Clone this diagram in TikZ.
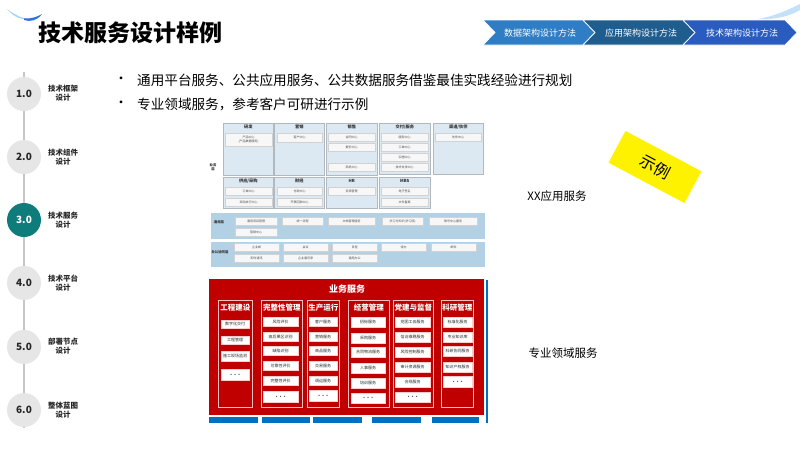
\documentclass[tikz,border=0pt]{standalone}
\usepackage{fontspec}
\setmainfont{Noto Sans CJK SC}
\definecolor{pbg}{HTML}{DCE9F3}
\definecolor{pbd}{HTML}{B0B8C0}
\definecolor{bandc}{HTML}{B3D1E4}
\definecolor{redc}{HTML}{C00000}
\definecolor{bluec}{HTML}{0070C0}
\definecolor{chA}{HTML}{2F7DC5}
\definecolor{chB}{HTML}{1F5D8F}
\definecolor{chC}{HTML}{2A5CBF}
\definecolor{teal3}{HTML}{0E7C7B}
\definecolor{circg}{HTML}{E6E6E6}
\definecolor{swA}{HTML}{A9D4F5}
\definecolor{swB}{HTML}{2F6FE0}
\tikzset{
  panel/.style={draw=pbd, fill=pbg, line width=0.6pt, inner sep=0, anchor=north west},
  ptitle/.style={font=\bfseries\fontsize{4.2}{5}\selectfont, text=black!80, inner sep=0},
  ibox/.style={draw=gray!35, fill=white!94!gray, line width=0.3pt, inner sep=0, anchor=north west, align=center, font=\fontsize{3}{3.6}\selectfont, text=black!70},
  band/.style={fill=bandc, draw=white, line width=0.5pt, inner sep=0, anchor=north west},
  blbl/.style={font=\bfseries\fontsize{3.4}{4}\selectfont, text=black!80, align=center, inner sep=0},
  redbox/.style={fill=redc, inner sep=0, anchor=north west},
  rcol/.style={draw=red!25, line width=0.8pt, inner sep=0, anchor=north west},
  rtitle/.style={font=\bfseries\fontsize{7.5}{8}\selectfont, text=white, inner sep=0},
  rbox/.style={fill=white, draw=red!20, line width=0.3pt, inner sep=0, anchor=north west, font=\fontsize{4}{4.5}\selectfont, text=black!85},
  dots/.style={font=\bfseries\fontsize{6}{6}\selectfont, text=black!70},
  bbar/.style={fill=bluec, inner sep=0, anchor=north west},
  chtxt/.style={font=\fontsize{9}{9}\selectfont, text=white},
  circ/.style={circle, fill=circg, minimum size=34pt, inner sep=0, font=\bfseries\fontsize{10}{10}\selectfont, text=black!85},
  clbl/.style={align=center, font=\bfseries\fontsize{7.5}{8.5}\selectfont, text=black!85, inner sep=0},
}
\newcommand\pnl[6]{\node[panel, minimum width=#4pt, minimum height=#5pt] (#1) at (#2,#3) {};
  \node[ptitle, anchor=north] (#1t) at ([yshift=-2pt]#1.north) {#6};}
\newcommand\ibx[6]{\node[ibox, minimum width=#4pt, minimum height=#5pt] (#1) at (#2,#3) {#6};}
\newcommand\rbx[6]{\node[rbox, minimum width=#4pt, minimum height=#5pt] (#1) at (#2,#3) {#6};}
\newcommand\dbx[5]{\node[rbox, dots, minimum width=#4pt, minimum height=#5pt] (#1) at (#2,#3) {. . .};}
\newcommand\rcl[4]{\node[rcol, minimum width=#3pt, minimum height=107pt] (#1) at (#2,300) {};
  \node[rtitle] (#1t) at ([yshift=-7.5pt]#1.north) {#4};}
\begin{document}
\begin{tikzpicture}[x=1pt,y=-1pt]
\useasboundingbox (0,0) rectangle (800,450);
\fill[white] (0,0) rectangle (800,450);
% swooshes
\fill[swA] (7,9) .. controls (15,15) and (22,18) .. (28,19) .. controls (20,20) and (13,16) .. cycle;
\fill[swB] (24,18.5) .. controls (31,19) and (37,17) .. (42,14) .. controls (37,21) and (30,22) .. (24,20) -- cycle;
\fill[swA!70] (758,19) .. controls (775,16) and (788,10) .. (800,4) -- (800,10) .. controls (790,16) and (775,20) .. cycle;
% title
\node[anchor=west, font=\bfseries\fontsize{23}{23}\selectfont] (title) at (35,33) {技术服务设计样例};
% chevrons
\filldraw[fill=chA, draw=white, line width=0.7pt] (483,20) -- (583,20) -- (595,32.5) -- (583,45) -- (483,45) -- (495,32.5) -- cycle;
\filldraw[fill=chB, draw=white, line width=0.7pt] (583,20) -- (683,20) -- (695,32.5) -- (683,45) -- (583,45) -- (595,32.5) -- cycle;
\filldraw[fill=chC, draw=white, line width=0.7pt] (683,20) -- (785,20) -- (797,32.5) -- (785,45) -- (683,45) -- (695,32.5) -- cycle;
\node[chtxt] (ch1) at (540,33) {数据架构设计方法};
\node[chtxt] (ch2) at (641,33) {应用架构设计方法};
\node[chtxt] (ch3) at (742,33) {技术架构设计方法};
% timeline
\coordinate (ltop) at (24,72);
\coordinate (lbot) at (24,428);
\draw[gray!45, line width=1.5pt] (ltop) -- (lbot);
\node[circ] (c1) at (24,94) {1.0};
\node[circ] (c2) at (24,157) {2.0};
\node[circ, fill=teal3, text=white] (c3) at (24,220) {3.0};
\node[circ] (c4) at (24,283) {4.0};
\node[circ] (c5) at (24,347) {5.0};
\node[circ] (c6) at (24,410) {6.0};
\node[clbl] (l1) at (63,93) {技术框架\\设计};
\node[clbl] (l2) at (63,157) {技术组件\\设计};
\node[clbl] (l3) at (63,220) {技术服务\\设计};
\node[clbl] (l4) at (63,283) {技术平台\\设计};
\node[clbl] (l5) at (63,346) {部署节点\\设计};
\node[clbl] (l6) at (63,410) {整体蓝图\\设计};
% bullets
\node[font=\fontsize{13.5}{14}\selectfont] (bd1) at (121,80) {•};
\node[font=\fontsize{13.5}{14}\selectfont] (bd2) at (121,104) {•};
\node[anchor=west, font=\fontsize{13.6}{14}\selectfont, inner sep=0] (bt1) at (137,80) {通用平台服务、公共应用服务、公共数据服务借鉴最佳实践经验进行规划};
\node[anchor=west, font=\fontsize{13.6}{14}\selectfont, inner sep=0] (bt2) at (137,104) {专业领域服务，参考客户可研进行示例};
% upper diagram
\node[blbl] (ywl) at (213,167) {业务\\层};
\pnl{p1}{223}{123}{50}{52}{研发}
\pnl{p2}{274}{123}{50}{52}{营销}
\pnl{p3}{326}{123}{51}{52}{销售}
\pnl{p4}{379}{123}{51}{51}{交付/服务}
\pnl{p5}{433}{123}{50}{51}{渠道/伙伴}
\pnl{p6}{223}{177}{50}{31}{供应/采购}
\pnl{p7}{274}{177}{50}{31}{财经}
\pnl{p8}{326}{177}{51}{31}{HR}
\pnl{p9}{379}{177}{51}{31}{MBS}
\ibx{yf1}{225}{133}{47}{13}{产品中心\\(产品数据服务)}
\ibx{yx1}{277}{133}{45}{9}{客户中心}
\ibx{xs1}{328}{133}{47}{8}{合同中心}
\ibx{xs2}{328}{143}{47}{8}{报价中心}
\ibx{xs3}{328}{163}{47}{8}{商机中心}
\ibx{jf1}{381}{133}{47}{8}{服务中心}
\ibx{jf2}{381}{143}{47}{8}{工单中心}
\ibx{jf3}{381}{153}{47}{8}{实施中心}
\ibx{jf4}{381}{163}{47}{8}{技术支持中心}
\ibx{qd1}{435}{133}{46}{8}{伙伴中心}
\ibx{gy1}{225}{187}{47}{8}{订单中心}
\ibx{gy2}{225}{198}{47}{8}{采购执行中心}
\ibx{cj1}{277}{187}{45}{8}{付款中心}
\ibx{cj2}{277}{198}{45}{8}{开票回款中心}
\ibx{hr1}{328}{187}{47}{8}{资源管理}
\ibx{mb1}{381}{187}{47}{8}{电子签名}
\ibx{mb2}{381}{198}{47}{8}{文件备案}
\node[band, minimum width=275pt, minimum height=27pt] (ty) at (210,211.5) {};
\node[blbl] (tyl) at (219,222) {通用层};
\ibx{t1}{235}{217}{42}{8}{通用项目管理}
\ibx{t2}{282}{217}{41}{8}{统一流程}
\ibx{t3}{328}{217}{47}{8}{文档管理服务}
\ibx{t4}{382}{217}{41}{8}{学习与知识(学习院)}
\ibx{t5}{429}{217}{48}{8}{账号中心服务}
\ibx{t6}{235}{228}{42}{8}{营销中心}
\node[band, minimum width=275pt, minimum height=26pt] (bg) at (210,240.5) {};
\node[blbl] (bgl) at (220,252) {办公协同层};
\ibx{o1}{234}{243}{45}{8}{企业邮}
\ibx{o2}{283}{243}{45}{8}{会议}
\ibx{o3}{332}{243}{45}{8}{日程}
\ibx{o4}{381}{243}{45}{8}{待办}
\ibx{o5}{431}{243}{45}{8}{邮件}
\ibx{o6}{234}{254}{45}{8}{即时通讯}
\ibx{o7}{283}{254}{45}{8}{企业通讯录}
\ibx{o8}{332}{254}{45}{8}{通用办公}
% red diagram
\node[redbox, minimum width=275pt, minimum height=136pt] (rb) at (209,279) {};
\node[font=\bfseries\fontsize{9}{9}\selectfont, text=white] (rbt) at (347,289) {业务服务};
\node[bbar, minimum width=2.2pt, minimum height=143pt] (bv) at (485.5,280) {};
\node[bbar, minimum width=49pt, minimum height=6pt] (bb1) at (209,417) {};
\node[bbar, minimum width=48pt, minimum height=6pt] (bb2) at (262,417) {};
\node[bbar, minimum width=49pt, minimum height=6pt] (bb3) at (313,417) {};
\node[bbar, minimum width=49pt, minimum height=6pt] (bb4) at (372,417) {};
\node[bbar, minimum width=47pt, minimum height=6pt] (bb5) at (432,417) {};
\rcl{k1}{218}{34}{工程建设}
\rcl{k2}{261}{41}{完整性管理}
\rcl{k3}{307}{32}{生产运行}
\rcl{k4}{348}{41}{经营管理}
\rcl{k5}{393}{40}{党建与监督}
\rcl{k6}{441}{32}{科研管理}
\rbx{a1}{221}{320}{28}{8}{数字化交付}
\rbx{a2}{221}{336}{28}{8}{工程管理}
\rbx{a3}{221}{351}{28}{10}{施工现场监测}
\dbx{a4}{221}{369}{28}{11}
\rbx{b1}{263}{317}{35}{9}{风险评价}
\rbx{b2}{263}{332}{35}{9}{高后果区识别}
\rbx{b3}{263}{346}{35}{9}{缺陷识别}
\rbx{b4}{263}{361}{35}{9}{可靠性评价}
\rbx{b5}{263}{376}{35}{9}{完整性评价}
\dbx{b6}{263}{391}{35}{11}
\rbx{c1}{309}{317}{28}{9}{客户服务}
\rbx{c2}{309}{332}{28}{9}{营销服务}
\rbx{c3}{309}{346}{28}{9}{商品服务}
\rbx{c4}{309}{361}{28}{9}{交易服务}
\rbx{c5}{309}{376}{28}{9}{调运服务}
\dbx{c6}{309}{390}{28}{11}
\rbx{d1}{351}{317}{34}{10}{招标服务}
\rbx{d2}{351}{333}{34}{10}{采购服务}
\rbx{d3}{351}{347}{34}{10}{合同物流服务}
\rbx{d4}{351}{363}{34}{10}{人事服务}
\rbx{d5}{351}{378}{34}{10}{培训服务}
\dbx{d6}{351}{393}{34}{10}
\rbx{e1}{395}{317}{35}{10}{党团工会服务}
\rbx{e2}{395}{332}{35}{10}{信访维稳服务}
\rbx{e3}{395}{347}{35}{10}{风险控制服务}
\rbx{e4}{395}{362}{35}{10}{审计资源服务}
\rbx{e5}{395}{377}{35}{10}{合规服务}
\dbx{e6}{395}{392}{35}{10}
\rbx{f1}{443}{317}{29}{10}{标准化服务}
\rbx{f2}{443}{332}{29}{10}{专业知识库}
\rbx{f3}{443}{346}{29}{10}{科研协同服务}
\rbx{f4}{443}{362}{29}{10}{知识产权服务}
\dbx{f5}{443}{376}{29}{11}
% right labels
\node[font=\fontsize{11.5}{12}\selectfont] (xxl) at (557,196) {XX应用服务};
\node[font=\fontsize{11.5}{12}\selectfont] (zyl) at (563,353) {专业领域服务};
\node[fill=yellow, minimum width=86pt, minimum height=36pt, rotate=-28, font=\fontsize{16}{16}\selectfont, inner sep=0] (sl) at (655,167) {示例};
\end{tikzpicture}
\end{document}
